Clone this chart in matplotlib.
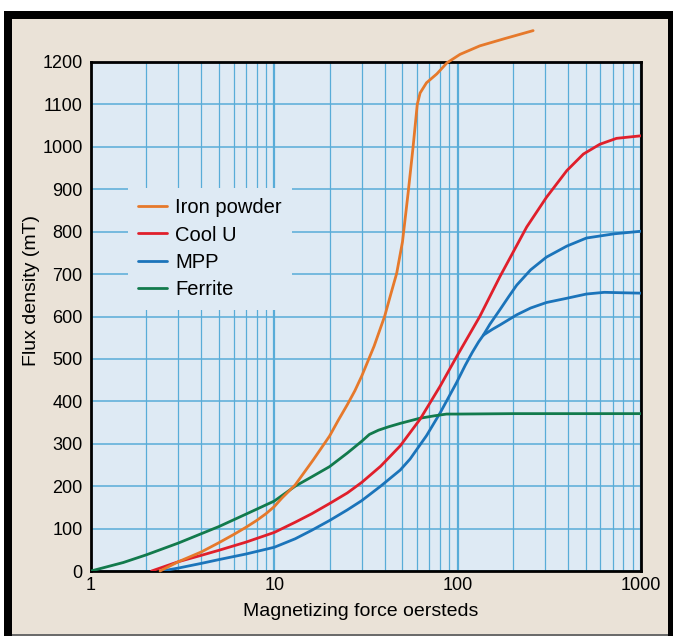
import matplotlib
matplotlib.use("Agg")
import matplotlib.pyplot as plt
from matplotlib.patches import Rectangle
from matplotlib.ticker import FixedLocator, NullLocator

# ---------------- data ----------------
iron_x = [2.38, 3, 4, 5, 6, 7, 8, 9, 10, 11, 13, 16.3, 20, 22.3, 25, 27.5, 30, 35, 40, 43, 46.5,
          50, 53.6, 57.1, 60.2, 62.4, 67.6, 77, 87.4, 103, 132, 180, 258]
iron_y = [0, 22, 45, 67, 86, 103, 119, 135, 152, 172, 203, 262, 318, 355, 392, 425, 460, 530, 601,
          650, 702, 776, 889, 999, 1100, 1127, 1151, 1172, 1198, 1218, 1238, 1255, 1274]

coolu_x = [2.14, 3, 4, 5, 7, 10, 13, 16, 20, 25, 30, 38, 48.6, 62.4, 80.3, 98.6, 132, 170, 238,
           305, 394, 485, 596, 735, 1000]
coolu_y = [0, 22, 37, 49, 68, 91, 115, 135, 159, 184, 209, 247, 295, 358, 436, 505, 600, 694, 811,
           881, 944, 983, 1006, 1020, 1026]

mpp_x = [2.44, 3, 4, 5, 7, 10, 13, 16, 20, 25, 30, 38, 48.6, 55, 67.6, 80.3, 98.6, 110, 120, 130, 138]
mpp_y = [0, 7, 18, 27, 40, 56, 76, 96, 119, 144, 166, 200, 238, 264, 319, 373, 444, 485, 515, 540, 556]
mpp_hi_x = [138, 150, 170, 190, 210, 250, 305, 394, 504, 716, 1000]
mpp_hi_y = [556, 582, 616, 647, 674, 710, 740, 766, 785, 795, 801]
mpp_lo_x = [138, 145, 155, 170, 210, 250, 305, 394, 504, 631, 782, 1000]
mpp_lo_y = [556, 562, 570, 580, 604, 620, 633, 643, 653, 657, 656, 655]

ferrite_x = [1, 1.5, 2, 3, 4, 5, 7, 10, 13, 16, 20, 25, 30, 33, 37, 42, 48.6, 62, 75, 87, 100, 200, 1000]
ferrite_y = [0, 20, 38, 66, 88, 105, 134, 165, 200, 222, 246, 278, 306, 322, 332, 340, 348, 360, 366,
             370, 370, 371, 371]

x_ticks = [1, 10, 100, 1000]
x_tick_labels = ["1", "10", "100", "1000"]
y_ticks = list(range(0, 1201, 100))

# ---------------- styling ----------------
W, H = 673, 636
plt.rcParams["font.family"] = ["Liberation Sans", "DejaVu Sans"]

C_IRON = "#e6792b"
C_COOL = "#e01f2b"
C_MPP = "#1b74ba"
C_FER = "#127a4c"
AX_BG = "#deeaf4"
GRID = "#58acd8"
BEIGE = "#eae2d7"

fig = plt.figure(figsize=(W / 100, H / 100), dpi=100, facecolor="white")

def px_rect(x0, y0_top, x1, y1_top, **kw):
    r = Rectangle((x0 / W, 1 - y1_top / H), (x1 - x0) / W, (y1_top - y0_top) / H,
                  transform=fig.transFigure, **kw)
    fig.patches.append(r)

px_rect(4, 11, 680, 640, facecolor="black", edgecolor="none", zorder=-3)
px_rect(12, 19, 668, 634, facecolor=BEIGE, edgecolor="none", zorder=-2)
px_rect(12, 634, 668, 636, facecolor="#6b6b6b", edgecolor="none", zorder=-2)

left, right, top, bottom = 91, 641, 62, 571
ax = fig.add_axes([left / W, 1 - bottom / H, (right - left) / W, (bottom - top) / H])
ax.set_zorder(1)
ax.set_facecolor(AX_BG)
ax.set_xscale("log")
ax.set_xlim(1, 1000)
ax.set_ylim(0, 1200)

ax.xaxis.set_major_locator(FixedLocator(x_ticks))
ax.xaxis.set_minor_locator(FixedLocator([m * d for d in (1, 10, 100) for m in range(2, 10)]))
ax.set_xticklabels(x_tick_labels)
ax.yaxis.set_major_locator(FixedLocator(y_ticks))
ax.yaxis.set_minor_locator(NullLocator())
ax.grid(True, which="major", axis="x", color=GRID, linewidth=1.6)
ax.grid(True, which="minor", axis="x", color=GRID, linewidth=0.9)
ax.grid(True, which="major", axis="y", color=GRID, linewidth=1.1)
ax.set_axisbelow(True)

ax.tick_params(axis="both", which="both", length=0)
ax.tick_params(axis="y", labelsize=13, pad=6)
ax.tick_params(axis="x", labelsize=13, pad=4)
for s in ax.spines.values():
    s.set_linewidth(2.0)
    s.set_color("black")

lw = 2.0
kw = dict(lw=lw, solid_joinstyle="round", solid_capstyle="round")
ax.plot(iron_x, iron_y, color=C_IRON, label="Iron powder", clip_on=False, zorder=5, **kw)
ax.plot(coolu_x, coolu_y, color=C_COOL, label="Cool U", zorder=4, **kw)
ax.plot(mpp_x, mpp_y, color=C_MPP, label="MPP", zorder=3, **kw)
ax.plot(mpp_hi_x, mpp_hi_y, color=C_MPP, zorder=3, **kw)
ax.plot(mpp_lo_x, mpp_lo_y, color=C_MPP, zorder=3, **kw)
ax.plot(ferrite_x, ferrite_y, color=C_FER, label="Ferrite", zorder=3, **kw)

leg = ax.legend(loc="upper left", bbox_to_anchor=(128 / W, 1 - 188 / H),
                bbox_transform=fig.transFigure, borderaxespad=0,
                frameon=True, facecolor=AX_BG, edgecolor="none", framealpha=1,
                fancybox=False, fontsize=14.5, handlelength=1.45, handletextpad=0.4,
                labelspacing=0.42, borderpad=0.5)
leg.set_zorder(6)
for line in leg.get_lines():
    line.set_linewidth(2.0)

fig.text(31 / W, 1 - 291 / H, "Flux density (mT)", rotation=90, ha="center", va="center",
         fontsize=14)
fig.text(361 / W, 1 - 612 / H, "Magnetizing force oersteds", ha="center", va="center",
         fontsize=14)

fig.savefig("out.png", dpi=100, facecolor=fig.get_facecolor())
